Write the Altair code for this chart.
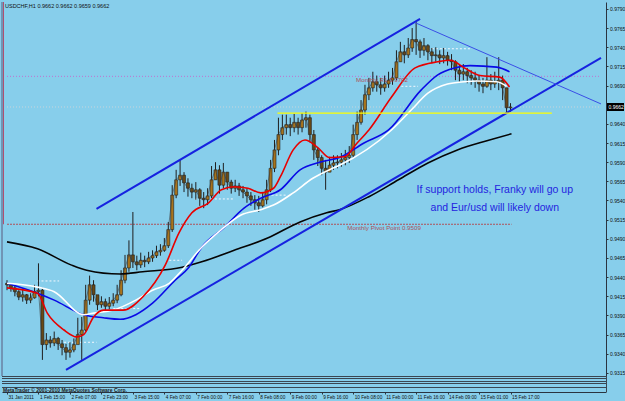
import altair as alt
import pandas as pd

# ---------------- data ----------------
# hours since 31 Jan 2011 23:00 (every 2nd H1 bar)
bar_hour = list(range(0, 257, 2))
opens = [0.9432, 0.9430, 0.9426, 0.9421, 0.9414, 0.9417, 0.9410, 0.9413, 0.9421, 0.9423,
         0.9352, 0.9358, 0.9354, 0.9360, 0.9353, 0.9348, 0.9342, 0.9345, 0.9352, 0.9365,
         0.9371, 0.9410, 0.9430, 0.9417, 0.9404, 0.9408, 0.9402, 0.9406, 0.9410, 0.9417,
         0.9436, 0.9452, 0.9469, 0.9460, 0.9456, 0.9462, 0.9460, 0.9465, 0.9468, 0.9473,
         0.9475, 0.9481, 0.9502, 0.9547, 0.9567, 0.9573, 0.9563, 0.9556, 0.9551, 0.9554,
         0.9543, 0.9541, 0.9546, 0.9567, 0.9580, 0.9560, 0.9577, 0.9564, 0.9556, 0.9559,
         0.9554, 0.9551, 0.9546, 0.9541, 0.9537, 0.9533, 0.9541, 0.9554, 0.9582, 0.9606,
         0.9626, 0.9635, 0.9639, 0.9635, 0.9642, 0.9635, 0.9645, 0.9648, 0.9626, 0.9606,
         0.9596, 0.9582, 0.9577, 0.9586, 0.9589, 0.9590, 0.9593, 0.9596, 0.9599, 0.9626,
         0.9642, 0.9658, 0.9678, 0.9687, 0.9695, 0.9691, 0.9687, 0.9692, 0.9697, 0.9700,
         0.9721, 0.9734, 0.9730, 0.9739, 0.9750, 0.9747, 0.9736, 0.9742, 0.9734, 0.9729,
         0.9730, 0.9726, 0.9729, 0.9723, 0.9721, 0.9710, 0.9705, 0.9708, 0.9703, 0.9700,
         0.9697, 0.9692, 0.9689, 0.9697, 0.9692, 0.9695, 0.9697, 0.9687, 0.9661]
highs = [0.9436, 0.9432, 0.9429, 0.9423, 0.9425, 0.9418, 0.9419, 0.9430, 0.9458, 0.9426,
         0.9367, 0.9363, 0.9369, 0.9362, 0.9358, 0.9353, 0.9355, 0.9360, 0.9387, 0.9388,
         0.9430, 0.9442, 0.9436, 0.9415, 0.9415, 0.9412, 0.9414, 0.9419, 0.9430, 0.9449,
         0.9469, 0.9488, 0.9525, 0.9468, 0.9472, 0.9468, 0.9473, 0.9475, 0.9481, 0.9483,
         0.9491, 0.9512, 0.9560, 0.9580, 0.9593, 0.9577, 0.9569, 0.9562, 0.9564, 0.9556,
         0.9551, 0.9556, 0.9585, 0.9590, 0.9586, 0.9589, 0.9577, 0.9567, 0.9567, 0.9563,
         0.9559, 0.9556, 0.9551, 0.9547, 0.9546, 0.9551, 0.9567, 0.9593, 0.9619, 0.9648,
         0.9652, 0.9652, 0.9648, 0.9653, 0.9648, 0.9654, 0.9656, 0.9652, 0.9632, 0.9609,
         0.9599, 0.9593, 0.9597, 0.9599, 0.9599, 0.9602, 0.9606, 0.9611, 0.9639, 0.9656,
         0.9671, 0.9691, 0.9700, 0.9708, 0.9703, 0.9700, 0.9703, 0.9708, 0.9713, 0.9736,
         0.9747, 0.9743, 0.9752, 0.9765, 0.9773, 0.9750, 0.9752, 0.9744, 0.9739, 0.9740,
         0.9736, 0.9739, 0.9734, 0.9731, 0.9723, 0.9717, 0.9718, 0.9713, 0.9710, 0.9708,
         0.9703, 0.9700, 0.9727, 0.9705, 0.9708, 0.9727, 0.9703, 0.9687, 0.9667]
lows = [0.9423, 0.9421, 0.9415, 0.9410, 0.9408, 0.9405, 0.9406, 0.9412, 0.9415, 0.9332,
        0.9345, 0.9348, 0.9350, 0.9345, 0.9338, 0.9332, 0.9335, 0.9342, 0.9355, 0.9332,
        0.9369, 0.9404, 0.9408, 0.9397, 0.9400, 0.9396, 0.9398, 0.9402, 0.9406, 0.9415,
        0.9432, 0.9447, 0.9452, 0.9449, 0.9452, 0.9453, 0.9457, 0.9460, 0.9465, 0.9468,
        0.9473, 0.9478, 0.9499, 0.9543, 0.9559, 0.9551, 0.9545, 0.9543, 0.9541, 0.9533,
        0.9530, 0.9534, 0.9543, 0.9567, 0.9549, 0.9556, 0.9554, 0.9549, 0.9551, 0.9546,
        0.9543, 0.9537, 0.9533, 0.9528, 0.9525, 0.9531, 0.9535, 0.9551, 0.9577, 0.9599,
        0.9619, 0.9626, 0.9624, 0.9629, 0.9626, 0.9629, 0.9635, 0.9616, 0.9593, 0.9585,
        0.9573, 0.9554, 0.9577, 0.9580, 0.9582, 0.9584, 0.9586, 0.9589, 0.9596, 0.9619,
        0.9639, 0.9652, 0.9671, 0.9682, 0.9682, 0.9678, 0.9682, 0.9687, 0.9691, 0.9697,
        0.9721, 0.9719, 0.9726, 0.9734, 0.9730, 0.9726, 0.9729, 0.9723, 0.9719, 0.9721,
        0.9718, 0.9719, 0.9716, 0.9710, 0.9697, 0.9695, 0.9697, 0.9693, 0.9691, 0.9687,
        0.9682, 0.9680, 0.9687, 0.9684, 0.9687, 0.9684, 0.9671, 0.9654, 0.9656]
closes = [0.9430, 0.9426, 0.9421, 0.9414, 0.9417, 0.9410, 0.9413, 0.9421, 0.9423, 0.9352,
          0.9358, 0.9354, 0.9360, 0.9353, 0.9348, 0.9342, 0.9345, 0.9352, 0.9365, 0.9371,
          0.9410, 0.9430, 0.9417, 0.9404, 0.9408, 0.9402, 0.9406, 0.9410, 0.9417, 0.9436,
          0.9452, 0.9469, 0.9460, 0.9456, 0.9462, 0.9460, 0.9465, 0.9468, 0.9473, 0.9475,
          0.9481, 0.9502, 0.9547, 0.9567, 0.9573, 0.9563, 0.9556, 0.9551, 0.9554, 0.9543,
          0.9541, 0.9546, 0.9567, 0.9580, 0.9560, 0.9577, 0.9564, 0.9556, 0.9559, 0.9554,
          0.9551, 0.9546, 0.9541, 0.9537, 0.9533, 0.9541, 0.9554, 0.9582, 0.9606, 0.9626,
          0.9635, 0.9639, 0.9635, 0.9642, 0.9635, 0.9645, 0.9648, 0.9626, 0.9606, 0.9596,
          0.9582, 0.9577, 0.9586, 0.9589, 0.9590, 0.9593, 0.9596, 0.9599, 0.9626, 0.9642,
          0.9658, 0.9678, 0.9687, 0.9695, 0.9691, 0.9687, 0.9692, 0.9697, 0.9700, 0.9721,
          0.9734, 0.9730, 0.9739, 0.9750, 0.9747, 0.9736, 0.9742, 0.9734, 0.9729, 0.9730,
          0.9726, 0.9729, 0.9723, 0.9721, 0.9710, 0.9705, 0.9708, 0.9703, 0.9700, 0.9697,
          0.9692, 0.9689, 0.9697, 0.9692, 0.9695, 0.9697, 0.9687, 0.9661, 0.9662]

# moving averages (hour, price)
red_h = [0, 15.5, 20.5, 29, 35.5, 39, 44, 49, 59, 69, 80.5, 87.5, 94, 102.5, 109, 115.5, 122.5,
         129, 135.5, 139, 145.5, 151.5, 158, 164, 171.5, 178, 184, 195.5, 207.5, 219, 225.5,
         232.5, 240.5, 250.5, 255.5]
red_p = [0.9426, 0.9419, 0.9393, 0.9371, 0.9362, 0.9365, 0.9388, 0.9397, 0.9397, 0.9414, 0.9456,
         0.9498, 0.9524, 0.9537, 0.9554, 0.9558, 0.9556, 0.9550, 0.9556, 0.9571, 0.9606, 0.9619,
         0.9609, 0.9596, 0.9597, 0.9615, 0.9632, 0.9675, 0.9713, 0.9721, 0.9723, 0.9713, 0.9703,
         0.9701, 0.9688]
blue_h = [0, 15.5, 24, 39, 49, 57.5, 65.5, 74, 85.5, 92.5, 99, 110.5, 120.5, 129, 139, 149, 159,
          169, 181.5, 194, 210.5, 219, 227.5, 235.5, 249, 255.5]
blue_p = [0.9432, 0.9419, 0.9410, 0.9391, 0.9387, 0.9385, 0.9391, 0.9406, 0.9436, 0.9453, 0.9479,
          0.9505, 0.9530, 0.9543, 0.9554, 0.9580, 0.9590, 0.9596, 0.9615, 0.9632, 0.9684, 0.9704,
          0.9713, 0.9716, 0.9714, 0.9708]
white_h = [0, 15.5, 24, 39, 44, 54, 65.5, 74, 82.5, 89, 99, 109, 119, 129, 135.5, 145.5, 155.5,
           165.5, 169, 195.5, 205.5, 214, 224, 232.5, 239, 249, 254]
white_p = [0.9432, 0.9427, 0.9421, 0.9391, 0.9393, 0.9397, 0.9410, 0.9423, 0.9432, 0.9449, 0.9479,
           0.9502, 0.9521, 0.9528, 0.9534, 0.9550, 0.9569, 0.9582, 0.9586, 0.9632, 0.9658, 0.9680,
           0.9692, 0.9695, 0.9696, 0.9695, 0.9689]
black_h = [0, 15.5, 32.5, 40.5, 57.5, 69, 89, 99, 115.5, 132.5, 149, 162.5, 169, 184, 199, 214,
           229, 244, 256.5]
black_p = [0.9486, 0.9477, 0.9456, 0.9449, 0.9444, 0.9447, 0.9453, 0.9460, 0.9475, 0.9491,
           0.9512, 0.9524, 0.9528, 0.9545, 0.9567, 0.9589, 0.9606, 0.9618, 0.9627]

# trend lines (two points each)
upper_h = [45.5, 210]
upper_p = [0.9529, 0.9777]
lower_h = [30, 302]
lower_p = [0.9319, 0.9726]
thin_h = [207.5, 302]
thin_p = [0.9772, 0.9666]

# horizontal levels
r1_level = 0.9702
pivot_level = 0.9509
bid_level = 0.9662
yellow_level = 0.9654
yellow_from, yellow_to = 137.5, 277
pivot_to = 256.5
seg_h1 = [15.5, 29, 54, 82.5, 95.5, 132.5, 200.5, 214]
seg_h2 = [26.5, 45.5, 67.5, 89, 115.5, 142.5, 209, 235.5]
seg_p = [0.9435, 0.9355, 0.9399, 0.9462, 0.9542, 0.9547, 0.9689, 0.9738]

# axes (0.9665 is hidden behind the bid-price box)
price_ticks = [0.9315, 0.9340, 0.9365, 0.9390, 0.9415, 0.9440, 0.9465, 0.9490, 0.9515, 0.9540,
               0.9565, 0.9590, 0.9615, 0.9640, 0.9690, 0.9715, 0.9740, 0.9765, 0.9790]
tick_hours = [0, 16, 32, 48, 64, 80, 96, 112, 128, 144, 160, 176, 192, 208, 224, 240, 256]
tick_labels = ["31 Jan 2011", "1 Feb 15:00", "2 Feb 07:00", "2 Feb 23:00", "3 Feb 15:00",
               "4 Feb 07:00", "7 Feb 00:00", "7 Feb 16:00", "8 Feb 08:00", "9 Feb 00:00",
               "9 Feb 16:00", "10 Feb 08:00", "11 Feb 00:00", "11 Feb 16:00", "14 Feb 09:00",
               "15 Feb 01:00", "15 Feb 17:00"]

# annotations
note_lines = ["If support holds, Franky will go up", "and Eur/usd  will likely down"]
note_h = [248, 248]
note_p = [0.9554, 0.9530]
header = "USDCHF,H1  0.9662 0.9662 0.9659 0.9662"
pivot_label = "Monthly Pivot Point  0.9509"
r1_label = "Monthly R1  0.9702"

# ---------------- chart ----------------
W, H = 604, 374
FONT = "Liberation Sans"
xs = alt.Scale(domain=[0, 302], nice=False, zero=False)
ys = alt.Scale(domain=[0.9311, 0.9799], nice=False, zero=False)


def X(f):
    return alt.X(f, type="quantitative", scale=xs, axis=None)


def Y(f):
    return alt.Y(f, type="quantitative", scale=ys, axis=None)


candles = pd.DataFrame({"h": bar_hour, "o": opens, "hi": highs, "lo": lows, "c": closes})

label_expr = "[" + ",".join("'" + t + "'" for t in tick_labels) + "][round(datum.value/16)]"

axis_anchor = alt.Chart(candles).mark_rule(opacity=0).encode(
    x=alt.X("h:Q", scale=xs, title=None, axis=alt.Axis(
        values=tick_hours, labelExpr=label_expr, orient="bottom", offset=16,
        tickSize=2, tickColor="#2a3440", domainColor="#2a3440", domainWidth=1,
        labelFont=FONT, labelFontSize=4.7, labelColor="#111111", labelAlign="left",
        labelBaseline="top", labelPadding=0.8, labelOffset=1, grid=False, title=None,
        labelOverlap=False, labelFlush=False, labelBound=False)),
    y=alt.Y("c:Q", scale=ys, title=None, axis=alt.Axis(
        values=price_ticks, format=".4f", orient="right", tickSize=2,
        tickColor="#2a3440", domainColor="#2a3440", labelFont=FONT, labelFontSize=5,
        labelColor="#111111", labelPadding=1.5, grid=False, title=None,
        labelOverlap=False, labelFlush=False, labelBound=False)),
)

# horizontal levels
r1_df = pd.DataFrame({"h1": [0], "h2": [302], "p": [r1_level]})
r1 = alt.Chart(r1_df).mark_rule(color="#c070d0", strokeDash=[1, 2], strokeWidth=1).encode(
    x=X("h1"), x2="h2", y=Y("p"))
piv_df = pd.DataFrame({"h1": [0], "h2": [pivot_to], "p": [pivot_level]})
piv = alt.Chart(piv_df).mark_rule(color="#b05058", strokeDash=[2, 1], strokeWidth=1).encode(
    x=X("h1"), x2="h2", y=Y("p"))
piv_v = alt.Chart(piv_df).mark_rule(color="#b05070", strokeWidth=1).encode(
    x=alt.value(1.5), y=Y("p"), y2=alt.value(0))
bid_df = pd.DataFrame({"h1": [0], "h2": [302], "p": [bid_level]})
bid = alt.Chart(bid_df).mark_rule(color="#c8d4dc", strokeDash=[1, 2], strokeWidth=1).encode(
    x=X("h1"), x2="h2", y=Y("p"))
seg_df = pd.DataFrame({"h1": seg_h1, "h2": seg_h2, "p": seg_p})
segs = alt.Chart(seg_df).mark_rule(color="#f4f8ff", strokeDash=[2, 2], strokeWidth=1).encode(
    x=X("h1"), x2="h2", y=Y("p"))

# candles
wick = alt.Chart(candles).mark_rule(color="#1e1e1e", strokeWidth=1).encode(
    x=X("h"), y=Y("lo"), y2="hi")
body = alt.Chart(candles).mark_bar(
    width=3, stroke="#1e1e1e", strokeWidth=0.6).encode(
    x=X("h"), y=Y("o"), y2="c",
    color=alt.condition("datum.c >= datum.o", alt.value("#a8741c"), alt.value("#6a4a16")))
fast = alt.Chart(candles).mark_line(color="#3a3a3a", strokeWidth=0.7, opacity=0.8).encode(
    x=X("h"), y=Y("c"))


def ma(hs, ps, color, w=1.6):
    df = pd.DataFrame({"h": hs, "p": ps})
    return alt.Chart(df).mark_line(color=color, strokeWidth=w, interpolate="monotone").encode(
        x=X("h"), y=Y("p"))


black = ma(black_h, black_p, "#050505")
blue = ma(blue_h, blue_p, "#0a0ae6")
white = ma(white_h, white_p, "#ffffff")
red = ma(red_h, red_p, "#e80000")


def tline(hs, ps, color, w):
    df = pd.DataFrame({"h": hs, "p": ps})
    return alt.Chart(df).mark_line(color=color, strokeWidth=w).encode(x=X("h"), y=Y("p"))


upper = tline(upper_h, upper_p, "#1622e0", 2)
lower = tline(lower_h, lower_p, "#1622e0", 2)
thin = tline(thin_h, thin_p, "#3a4ee6", 1)

ydf = pd.DataFrame({"h1": [yellow_from], "h2": [yellow_to], "p": [yellow_level]})
yellow = alt.Chart(ydf).mark_rule(color="#ffff00", strokeWidth=1.2).encode(
    x=X("h1"), x2="h2", y=Y("p"))

# labels
lab_df = pd.DataFrame({"h": [173, 177.5], "p": [pivot_level - 0.0005, r1_level - 0.0005],
                       "t": [pivot_label, r1_label]})
labs = alt.Chart(lab_df).mark_text(align="left", baseline="middle", font=FONT, fontSize=6.2,
                                   color="#b05058").encode(x=X("h"), y=Y("p"), text="t:N")
note_df = pd.DataFrame({"h": note_h, "p": note_p, "t": note_lines})
notes = alt.Chart(note_df).mark_text(align="center", baseline="middle", font=FONT,
                                     fontSize=10.5, color="#2424e0").encode(
    x=X("h"), y=Y("p"), text="t:N")

# bid box on the price axis
box_df = pd.DataFrame({"p": [bid_level], "t": ["%.4f" % bid_level]})
box = alt.Chart(box_df).transform_calculate(
    top="datum.p + 0.00052", bot="datum.p - 0.00052").mark_rect(color="#000000").encode(
    x=alt.value(W + 1), x2=alt.value(W + 18),
    y=alt.Y("top:Q", scale=ys, axis=None), y2="bot:Q")
box_t = alt.Chart(box_df).mark_text(align="left", baseline="middle", font=FONT, fontSize=5,
                                    color="#ffffff").encode(
    x=alt.value(W + 2.5), y=Y("p"), text="t:N")

# frame / empty indicator windows
dummy = pd.DataFrame({"k": [0]})
frame_col = "#3a4652"
frame = []
for yy in [H, H + 2, H + 5, H + 7, H + 11]:
    frame.append(alt.Chart(dummy).mark_rule(color=frame_col, strokeWidth=1).encode(
        x=alt.value(0), x2=alt.value(W), y=alt.value(yy + 0.5)))
frame.append(alt.Chart(dummy).mark_rule(color=frame_col, strokeWidth=1).encode(
    x=alt.value(W + 0.5), y=alt.value(H), y2=alt.value(H + 16)))
frame.append(alt.Chart(dummy).mark_rule(color="#5a5a7e", strokeWidth=1).encode(
    x=alt.value(0), y=alt.value(0), y2=alt.value(H)))
mt_text = alt.Chart(dummy).mark_text(align="left", baseline="middle", font=FONT, fontSize=5,
                                     fontWeight="bold", color="#1a1a1a").encode(
    x=alt.value(1), y=alt.value(H + 14),
    text=alt.value("MetaTrader © 2001-2010 MetaQuotes Software Corp."))
head_text = alt.Chart(dummy).mark_text(align="left", baseline="middle", font=FONT, fontSize=5.5,
                                       color="#111111").encode(
    x=alt.value(3), y=alt.value(4), text=alt.value(header))

chart = alt.layer(
    axis_anchor, r1, piv, piv_v, bid, segs, wick, body, fast, black, blue, white, red,
    upper, lower, thin, yellow, labs, notes, box, box_t, *frame, mt_text, head_text
).resolve_axis(x="independent", y="independent").properties(
    width=W, height=H,
    autosize=alt.AutoSizeParams(type="none"),
    padding={"left": 2, "top": 2, "right": 19, "bottom": 25},
    background="#87ceeb",
).configure_view(stroke=None).configure_axis(labelOverlap=False, labelFlush=False)

chart.save("out.html", embed_options={"renderer": "svg", "actions": False})
